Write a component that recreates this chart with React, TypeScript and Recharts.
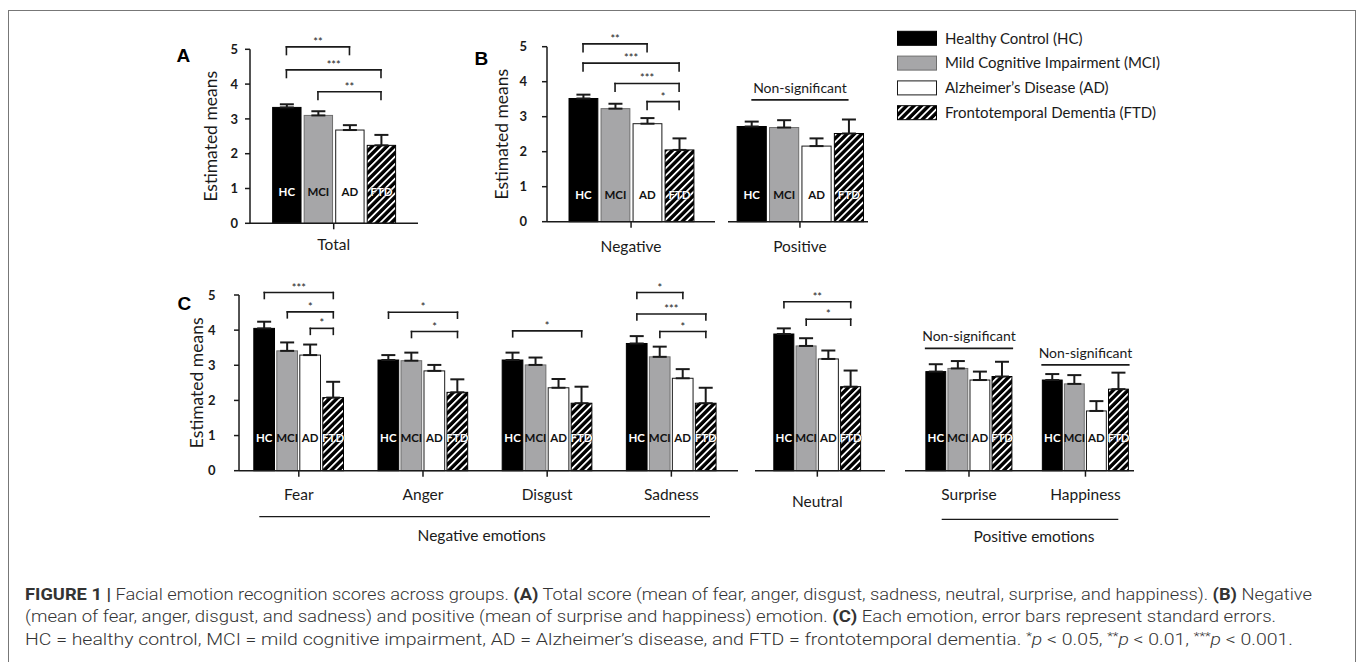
import { Bar, BarChart, ErrorBar, ReferenceLine, XAxis, YAxis } from 'recharts'

const GROUPS = ['HC', 'MCI', 'AD', 'FTD']
const GROUP_NAMES = [
  'Healthy Control (HC)',
  'Mild Cognitive Impairment (MCI)',
  'Alzheimer’s Disease (AD)',
  'Frontotemporal Dementia (FTD)',
]

// (A) total score
const TOTAL_MEANS = [3.33, 3.1, 2.68, 2.24]
const TOTAL_SE = [0.09, 0.12, 0.14, 0.3]

// (B) valence
const NEGATIVE_MEANS = [3.52, 3.23, 2.8, 2.05]
const NEGATIVE_SE = [0.11, 0.14, 0.16, 0.33]
const POSITIVE_MEANS = [2.72, 2.69, 2.16, 2.52]
const POSITIVE_SE = [0.14, 0.21, 0.22, 0.4]

// (C) each emotion
const FEAR_MEANS = [4.05, 3.41, 3.29, 2.08]
const FEAR_SE = [0.19, 0.24, 0.3, 0.45]
const ANGER_MEANS = [3.15, 3.13, 2.84, 2.23]
const ANGER_SE = [0.14, 0.23, 0.17, 0.37]
const DISGUST_MEANS = [3.15, 3.01, 2.36, 1.92]
const DISGUST_SE = [0.21, 0.21, 0.25, 0.47]
const SADNESS_MEANS = [3.62, 3.24, 2.63, 1.92]
const SADNESS_SE = [0.21, 0.29, 0.26, 0.44]
const NEUTRAL_MEANS = [3.89, 3.55, 3.18, 2.39]
const NEUTRAL_SE = [0.16, 0.22, 0.24, 0.46]
const SURPRISE_MEANS = [2.82, 2.91, 2.58, 2.68]
const SURPRISE_SE = [0.21, 0.21, 0.24, 0.42]
const HAPPINESS_MEANS = [2.58, 2.47, 1.7, 2.32]
const HAPPINESS_SE = [0.17, 0.25, 0.28, 0.47]

const Y_TICKS = [0, 1, 2, 3, 4, 5]

type Sig = { cat: string; from: string; to: string; mark: string; level: number }
type Ns = { cat: string; level: number }

const SIG_TOTAL: Sig[] = [
  { cat: 'Total', from: 'HC', to: 'AD', mark: '**', level: 5.07 },
  { cat: 'Total', from: 'HC', to: 'FTD', mark: '***', level: 4.41 },
  { cat: 'Total', from: 'MCI', to: 'FTD', mark: '**', level: 3.78 },
]
const SIG_VALENCE: Sig[] = [
  { cat: 'Negative', from: 'HC', to: 'AD', mark: '**', level: 5.08 },
  { cat: 'Negative', from: 'HC', to: 'FTD', mark: '***', level: 4.53 },
  { cat: 'Negative', from: 'MCI', to: 'FTD', mark: '***', level: 3.95 },
  { cat: 'Negative', from: 'AD', to: 'FTD', mark: '*', level: 3.43 },
]
const NS_VALENCE: Ns[] = [{ cat: 'Positive', level: 3.48 }]
const SIG_EMOTION: Sig[] = [
  { cat: 'Fear', from: 'HC', to: 'FTD', mark: '***', level: 5.07 },
  { cat: 'Fear', from: 'MCI', to: 'FTD', mark: '*', level: 4.52 },
  { cat: 'Fear', from: 'AD', to: 'FTD', mark: '*', level: 4.05 },
  { cat: 'Anger', from: 'HC', to: 'FTD', mark: '*', level: 4.51 },
  { cat: 'Anger', from: 'MCI', to: 'FTD', mark: '*', level: 3.96 },
  { cat: 'Disgust', from: 'HC', to: 'FTD', mark: '*', level: 3.98 },
  { cat: 'Sadness', from: 'HC', to: 'AD', mark: '*', level: 5.07 },
  { cat: 'Sadness', from: 'HC', to: 'FTD', mark: '***', level: 4.46 },
  { cat: 'Sadness', from: 'MCI', to: 'FTD', mark: '*', level: 3.96 },
  { cat: 'Neutral', from: 'HC', to: 'FTD', mark: '**', level: 4.81 },
  { cat: 'Neutral', from: 'MCI', to: 'FTD', mark: '*', level: 4.31 },
]
const NS_EMOTION: Ns[] = [
  { cat: 'Surprise', level: 3.48 },
  { cat: 'Happiness', level: 3.01 },
]

const FONT = 'Lato, "Open Sans", sans-serif'
const INK = '#1a1a1a'
const BAR_FILL: Record<string, string> = { HC: '#000', MCI: '#a6a6a8', AD: '#fff', FTD: 'url(#ftdHatch)' }
const BAR_STROKE: Record<string, string> = { HC: '#000', MCI: '#6e6e6e', AD: '#1a1a1a', FTD: '#000' }
const TAG_FILL: Record<string, string> = { HC: '#fff', MCI: '#111', AD: '#111', FTD: '#fff' }

const markLabel = (text: string, size: number, lift: number) => (props: any) => {
  const vb = props.viewBox
  return (
    <text x={vb.x + vb.width / 2} y={vb.y - lift} textAnchor="middle" fontSize={size} fontFamily={FONT} fill={INK}>
      {text}
    </text>
  )
}

type PanelProps = {
  cats: string[]
  means: number[][]
  ses: number[][]
  sig?: Sig[]
  ns?: Ns[]
  top: number
  plotLeft: number
  plotRight: number
  plotTop: number
  plotBottom: number
  lo: number
  hi: number
  pitch?: number
  axis?: { width: number; labelOffset: number; tickMargin: number }
  catDrop: number
  tagLift: number
  nsExtend?: number
  leg?: number
}

function Panel(p: PanelProps) {
  const pitch = p.pitch ?? 5
  const leg = p.leg ?? 0.18
  const ext = p.nsExtend ?? 0
  const pos = (ci: number, gi: number) => ci * pitch + gi + 0.5
  const rows = p.cats.flatMap((cat, ci) =>
    GROUPS.map((g, gi) => ({ x: pos(ci, gi), value: p.means[ci][gi], err: [0, p.ses[ci][gi]], abbr: g, cat })),
  )
  const yw = p.axis ? p.axis.width : 0
  const left = p.plotLeft - yw
  const width = p.plotRight - left
  const height = p.plotBottom - p.top + 40
  const barSize = (p.plotRight - p.plotLeft) / (p.hi - p.lo)

  const shape = (s: any) => {
    const abbr = s.payload.abbr
    return (
      <g>
        <rect x={s.x} y={s.y} width={s.width} height={s.height} fill={BAR_FILL[abbr]} stroke={BAR_STROKE[abbr]} strokeWidth={1} />
        <text
          x={s.x + s.width / 2}
          y={s.y + s.height - p.tagLift}
          textAnchor="middle"
          fontSize={11.5}
          fontWeight={700}
          fontFamily={FONT}
          fill={TAG_FILL[abbr]}
          stroke={abbr === 'FTD' ? '#000' : 'none'}
          strokeWidth={0.6}
          paintOrder="stroke"
        >
          {abbr}
        </text>
      </g>
    )
  }

  const lineStyle = { stroke: INK, strokeWidth: 1.6, strokeLinecap: 'square' as const }
  const marks: any[] = []
  ;(p.sig ?? []).forEach((s, k) => {
    const ci = p.cats.indexOf(s.cat)
    if (ci < 0) return
    const x1 = pos(ci, GROUPS.indexOf(s.from))
    const x2 = pos(ci, GROUPS.indexOf(s.to))
    const y2 = s.level - leg
    marks.push(
      <ReferenceLine key={`h${k}`} segment={[{ x: x1, y: s.level }, { x: x2, y: s.level }]} {...lineStyle} ifOverflow="visible" label={markLabel(s.mark, 11, 1)} />,
      <ReferenceLine key={`l${k}`} segment={[{ x: x1, y: s.level }, { x: x1, y: y2 }]} {...lineStyle} ifOverflow="visible" />,
      <ReferenceLine key={`r${k}`} segment={[{ x: x2, y: s.level }, { x: x2, y: y2 }]} {...lineStyle} ifOverflow="visible" />,
    )
  })
  ;(p.ns ?? []).forEach((n, k) => {
    const ci = p.cats.indexOf(n.cat)
    if (ci < 0) return
    marks.push(
      <ReferenceLine
        key={`n${k}`}
        segment={[{ x: pos(ci, 0) - ext, y: n.level }, { x: pos(ci, 3) + ext, y: n.level }]}
        stroke={INK}
        strokeWidth={1.6}
        ifOverflow="visible"
        label={markLabel('Non-significant', 14, 7)}
      />,
    )
  })

  const catTick = (t: any) => {
    const name = p.cats[t.index]
    const drop = name === 'Neutral' ? 7 : 0
    return (
      <text x={t.x} y={t.y + p.catDrop + drop} textAnchor="middle" fontSize={15.5} fontFamily={FONT} fill={INK}>
        {name}
      </text>
    )
  }

  return (
    <div style={{ position: 'absolute', left, top: p.top, width, height }}>
      <BarChart
        width={width}
        height={height}
        data={rows}
        margin={{ top: p.plotTop - p.top, right: 0, bottom: 0, left: 0 }}
        barCategoryGap={0}
        barGap={0}
      >
        <XAxis
          type="number"
          dataKey="x"
          domain={[p.lo, p.hi]}
          ticks={p.cats.map((_, ci) => ci * pitch + 2)}
          interval={0}
          tick={catTick}
          tickSize={6}
          tickMargin={0}
          height={40}
          axisLine={{ stroke: INK, strokeWidth: 1.5 }}
          tickLine={{ stroke: INK, strokeWidth: 1.5 }}
        />
        <YAxis
          type="number"
          domain={[0, 5]}
          ticks={Y_TICKS}
          interval={0}
          hide={!p.axis}
          width={yw}
          tickSize={5}
          tickMargin={p.axis?.tickMargin ?? 2}
          tick={{ fill: INK, fontSize: 13, fontWeight: 700, fontFamily: FONT }}
          axisLine={{ stroke: INK, strokeWidth: 1.5 }}
          tickLine={{ stroke: INK, strokeWidth: 1.5 }}
          label={
            p.axis
              ? {
                  value: 'Estimated means',
                  angle: -90,
                  position: 'insideLeft',
                  offset: p.axis.labelOffset,
                  style: { textAnchor: 'middle', fontSize: 17.5, fontFamily: FONT, fill: INK },
                }
              : undefined
          }
        />
        <Bar dataKey="value" barSize={barSize} shape={shape} isAnimationActive={false}>
          <ErrorBar dataKey="err" width={7} strokeWidth={2} stroke={INK} direction="y" />
        </Bar>
        {marks}
      </BarChart>
    </div>
  )
}

const CAPTION = { x: 25, size: 16.3, color: '#333' }

export default function App() {
  return (
    <div style={{ position: 'absolute', left: 0, top: 0, width: 1357, height: 662, background: '#fff', overflow: 'hidden' }}>
      <div style={{ position: 'absolute', left: 8, top: 10, width: 1348, height: 700, border: '1px solid #777', boxSizing: 'border-box' }} />
      <svg width={1357} height={662} style={{ position: 'absolute', left: 0, top: 0 }}>
        <defs>
          <pattern id="ftdHatch" patternUnits="userSpaceOnUse" width={5.2} height={5.2} patternTransform="rotate(45)">
            <rect width={5.2} height={5.2} fill="#000" />
            <rect width={1.8} height={5.2} fill="#fff" />
          </pattern>
        </defs>

        <g fontFamily='"Liberation Sans", Arial, sans-serif' fontWeight={700} fontSize={19} fill="#000">
          <text x={176.5} y={61.7}>A</text>
          <text x={474.5} y={65}>B</text>
          <text x={177.5} y={310}>C</text>
        </g>

        <g fontFamily={FONT} fontSize={15} fill={INK}>
          {GROUP_NAMES.map((name, i) => {
            const cy = 38.3 + i * 24.8
            const g = GROUPS[i]
            return (
              <g key={name}>
                <rect x={897.5} y={cy - 7} width={39} height={14} fill={BAR_FILL[g]} stroke={BAR_STROKE[g]} strokeWidth={1} />
                <text x={945} y={cy + 5.3}>{name}</text>
              </g>
            )
          })}
        </g>

        <g stroke={INK} strokeWidth={1.2}>
          <line x1={259.3} y1={516.7} x2={710} y2={516.7} />
          <line x1={941.7} y1={519.3} x2={1118.3} y2={519.3} />
        </g>
        <g fontFamily={FONT} fontSize={15.5} fill={INK} textAnchor="middle">
          <text x={481.7} y={540.5}>Negative emotions</text>
          <text x={1034} y={541.5}>Positive emotions</text>
        </g>

        <g fontFamily="Roboto, 'Liberation Sans', sans-serif" fontWeight={300} fontSize={CAPTION.size} fill={CAPTION.color}>
          <text x={CAPTION.x} y={599.5} textLength={1312 - CAPTION.x} lengthAdjust="spacingAndGlyphs">
            <tspan fontWeight={700}>FIGURE 1 |</tspan> Facial emotion recognition scores across groups. <tspan fontWeight={700}>(A)</tspan> Total
            score (mean of fear, anger, disgust, sadness, neutral, surprise, and happiness). <tspan fontWeight={700}>(B)</tspan> Negative
          </text>
          <text x={CAPTION.x} y={622} textLength={1276 - CAPTION.x} lengthAdjust="spacingAndGlyphs">
            (mean of fear, anger, disgust, and sadness) and positive (mean of surprise and happiness) emotion.{' '}
            <tspan fontWeight={700}>(C)</tspan> Each emotion, error bars represent standard errors.
          </text>
          <text x={CAPTION.x} y={645} textLength={1293 - CAPTION.x} lengthAdjust="spacingAndGlyphs">
            HC = healthy control, MCI = mild cognitive impairment, AD = Alzheimer’s disease, and FTD = frontotemporal dementia.{' '}
            <tspan fontSize={11} dy={-5}>*</tspan>
            <tspan fontStyle="italic" dy={5}>p</tspan> &lt; 0.05, <tspan fontSize={11} dy={-5}>**</tspan>
            <tspan fontStyle="italic" dy={5}>p</tspan> &lt; 0.01, <tspan fontSize={11} dy={-5}>***</tspan>
            <tspan fontStyle="italic" dy={5}>p</tspan> &lt; 0.001.
          </text>
        </g>
      </svg>

      <Panel
        cats={['Total']}
        means={[TOTAL_MEANS]}
        ses={[TOTAL_SE]}
        sig={SIG_TOTAL}
        top={20}
        plotLeft={250}
        plotRight={418}
        plotTop={49.3}
        plotBottom={223.3}
        lo={-0.655}
        hi={4.674}
        axis={{ width: 80, labelOffset: 41, tickMargin: 7 }}
        catDrop={21.2}
        tagLift={27.4}
        leg={0.22}
      />
      <Panel
        cats={['Negative']}
        means={[NEGATIVE_MEANS]}
        ses={[NEGATIVE_SE]}
        sig={SIG_VALENCE}
        top={20}
        plotLeft={546.7}
        plotRight={715}
        plotTop={46.7}
        plotBottom={221.7}
        lo={-0.625}
        hi={4.63}
        axis={{ width: 80, labelOffset: 35, tickMargin: 15 }}
        catDrop={24.5}
        tagLift={22.5}
        leg={0.22}
      />
      <Panel
        cats={['Positive']}
        means={[POSITIVE_MEANS]}
        ses={[POSITIVE_SE]}
        ns={NS_VALENCE}
        top={20}
        plotLeft={728}
        plotRight={868}
        plotTop={46.7}
        plotBottom={221.7}
        lo={-0.22}
        hi={4.1}
        catDrop={24.5}
        tagLift={22.5}
      />
      <Panel
        cats={['Fear', 'Anger', 'Disgust', 'Sadness']}
        means={[FEAR_MEANS, ANGER_MEANS, DISGUST_MEANS, SADNESS_MEANS]}
        ses={[FEAR_SE, ANGER_SE, DISGUST_SE, SADNESS_SE]}
        sig={SIG_EMOTION}
        top={270}
        plotLeft={239}
        plotRight={738.3}
        plotTop={295}
        plotBottom={470.7}
        lo={-0.6}
        hi={21.11}
        pitch={5.4}
        axis={{ width: 80, labelOffset: 37.7, tickMargin: 18.5 }}
        catDrop={23.8}
        tagLift={29}
        leg={0.17}
      />
      <Panel
        cats={['Neutral']}
        means={[NEUTRAL_MEANS]}
        ses={[NEUTRAL_SE]}
        sig={SIG_EMOTION}
        top={270}
        plotLeft={755}
        plotRight={885}
        plotTop={295}
        plotBottom={470.7}
        lo={-0.8}
        hi={5.04}
        catDrop={23.8}
        tagLift={29}
        leg={0.17}
      />
      <Panel
        cats={['Surprise', 'Happiness']}
        means={[SURPRISE_MEANS, HAPPINESS_MEANS]}
        ses={[SURPRISE_SE, HAPPINESS_SE]}
        ns={NS_EMOTION}
        top={270}
        plotLeft={905}
        plotRight={1134}
        plotTop={295}
        plotBottom={470.7}
        lo={-0.9}
        hi={9.48}
        pitch={5.28}
        catDrop={23.8}
        tagLift={29}
        nsExtend={0.5}
      />
    </div>
  )
}
